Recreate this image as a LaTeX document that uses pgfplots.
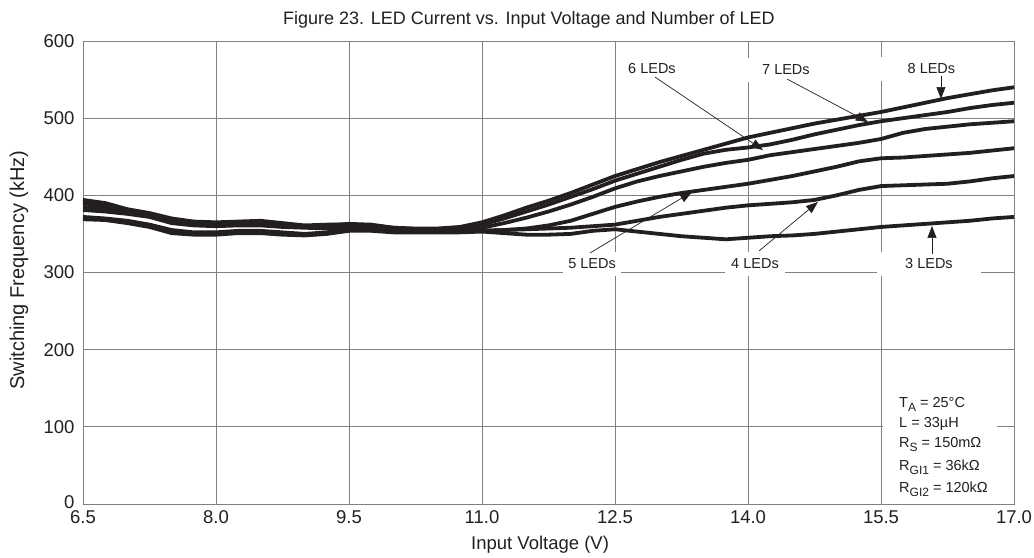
\documentclass[border=0pt]{standalone}
\usepackage{fontspec}
\setmainfont{Liberation Sans}
\usepackage{pgfplots}
\pgfplotsset{compat=1.18}
\usetikzlibrary{arrows.meta}
\definecolor{ink}{HTML}{231F20}
\definecolor{gridc}{HTML}{808080}
\newcommand{\sub}[1]{\raisebox{-4bp}{\fontsize{12bp}{14bp}\selectfont #1}}
\begin{document}
\begin{tikzpicture}[
 lab/.style={font=\fontsize{14.5bp}{17bp}\selectfont, text=ink, fill=white, inner ysep=7bp},
 arr/.style={ink, line width=0.7bp, -{Triangle[length=12bp,width=9bp]}},
 curve/.style={ink, line width=3.8bp, line join=round, solid, mark=none},
]
\begin{axis}[
 scale only axis, width=931bp, height=463bp,
 xmin=6.5, xmax=17, ymin=0, ymax=600,
 xtick={6.5,8,9.5,11,12.5,14,15.5,17},
 xticklabels={6.5,8.0,9.5,11.0,12.5,14.0,15.5,17.0},
 ytick={0,100,200,300,400,500,600},
 yticklabels={\raisebox{4bp}{0}\hspace{8bp},100,200,300,400,500,600},
 grid=major,
 grid style={gridc, line width=0.9bp},
 axis line style={gridc, line width=0.9bp},
 major tick length=0pt,
 tick label style={font=\fontsize{18.5bp}{22bp}\selectfont, text=ink},
 yticklabel style={xshift=-5bp},
 xticklabel style={yshift=-3bp},
 /pgf/number format/assume math mode=true,
 clip=false,
]
% 8 LEDs
\addplot[curve] coordinates {(6.5,394)(6.75,390)(7.0,382)(7.25,377)(7.5,370)(7.75,366)(8.0,365)(8.25,366)(8.5,367)(8.75,364)(9.0,361)(9.25,362)(9.5,362)(9.75,361)(10.0,358)(10.25,357)(10.5,357)(10.75,359)(11.0,365)(11.25,374)(11.5,384)(11.75,393)(12.0,403)(12.25,414)(12.5,425)(12.75,434)(13.0,443)(13.25,451)(13.5,459)(13.75,467)(14.0,475)(14.25,481)(14.5,487)(14.75,493)(15.0,498)(15.25,503)(15.5,508)(15.75,514)(16.0,520)(16.25,526)(16.5,531)(16.75,536)(17.0,540)};
% 7 LEDs
\addplot[curve] coordinates {(6.5,390)(6.75,386)(7.0,380)(7.25,375)(7.5,369)(7.75,364)(8.0,363)(8.25,363)(8.5,364)(8.75,362)(9.0,360)(9.25,360)(9.5,360)(9.75,359)(10.0,356)(10.25,355)(10.5,355)(10.75,357)(11.0,362)(11.25,370)(11.5,379)(11.75,388)(12.0,398)(12.25,408)(12.5,419)(12.75,428)(13.0,437)(13.25,446)(13.5,454)(13.75,459)(14.0,462)(14.25,466)(14.5,472)(14.75,479)(15.0,485)(15.25,491)(15.5,496)(15.75,500)(16.0,504)(16.25,508)(16.5,513)(16.75,517)(17.0,520)};
% 6 LEDs
\addplot[curve] coordinates {(6.5,385)(6.75,383)(7.0,378)(7.25,373)(7.5,366)(7.75,362)(8.0,361)(8.25,362)(8.5,362)(8.75,360)(9.0,359)(9.25,361)(9.5,363)(9.75,362)(10.0,358)(10.25,356)(10.5,356)(10.75,356)(11.0,358)(11.25,364)(11.5,371)(11.75,379)(12.0,388)(12.25,398)(12.5,409)(12.75,418)(13.0,425)(13.25,431)(13.5,437)(13.75,442)(14.0,446)(14.25,452)(14.5,456)(14.75,460)(15.0,464)(15.25,468)(15.5,473)(15.75,481)(16.0,486)(16.25,489)(16.5,492)(16.75,494)(17.0,496)};
% 5 LEDs
\addplot[curve] coordinates {(6.5,381)(6.75,379)(7.0,376)(7.25,372)(7.5,364)(7.75,361)(8.0,360)(8.25,361)(8.5,361)(8.75,359)(9.0,358)(9.25,357)(9.5,357)(9.75,356)(10.0,354)(10.25,353)(10.5,353)(10.75,353)(11.0,354)(11.25,355)(11.5,357)(11.75,361)(12.0,367)(12.25,376)(12.5,385)(12.75,392)(13.0,398)(13.25,403)(13.5,407)(13.75,411)(14.0,415)(14.25,420)(14.5,425)(14.75,431)(15.0,437)(15.25,444)(15.5,448)(15.75,449)(16.0,451)(16.25,453)(16.5,455)(16.75,458)(17.0,461)};
% 4 LEDs
\addplot[curve] coordinates {(6.5,372)(6.75,370)(7.0,367)(7.25,362)(7.5,355)(7.75,352)(8.0,352)(8.25,354)(8.5,354)(8.75,352)(9.0,350)(9.25,352)(9.5,356)(9.75,356)(10.0,355)(10.25,354)(10.5,354)(10.75,354)(11.0,354)(11.25,355)(11.5,356)(11.75,357)(12.0,358)(12.25,360)(12.5,362)(12.75,367)(13.0,372)(13.25,376)(13.5,380)(13.75,384)(14.0,387)(14.25,389)(14.5,391)(14.75,394)(15.0,400)(15.25,407)(15.5,412)(15.75,413)(16.0,414)(16.25,415)(16.5,418)(16.75,422)(17.0,425)};
% 3 LEDs
\addplot[curve] coordinates {(6.5,369)(6.75,368)(7.0,364)(7.25,359)(7.5,351)(7.75,349)(8.0,349)(8.25,351)(8.5,351)(8.75,349)(9.0,348)(9.25,350)(9.5,354)(9.75,354)(10.0,352)(10.25,352)(10.5,352)(10.75,352)(11.0,353)(11.25,351)(11.5,349)(11.75,349)(12.0,350)(12.25,354)(12.5,356)(12.75,353)(13.0,350)(13.25,347)(13.5,345)(13.75,343)(14.0,345)(14.25,347)(14.5,348)(14.75,350)(15.0,353)(15.25,356)(15.5,359)(15.75,361)(16.0,363)(16.25,365)(16.5,367)(16.75,370)(17.0,372)};

% labels
\node[lab, inner xsep=4bp] at (axis cs:12.917,564.4) {6 LEDs};
\node[lab, inner xsep=16bp] at (axis cs:14.428,562.4) {7 LEDs};
\node[lab, inner xsep=28bp] at (axis cs:16.069,563.7) {8 LEDs};
\node[lab, inner xsep=5bp] at (axis cs:12.241,311) {5 LEDs};
\node[lab, inner xsep=6bp] at (axis cs:14.079,311) {4 LEDs};
\node[lab, inner xsep=28bp] at (axis cs:16.041,311) {3 LEDs};
\draw[arr] (axis cs:12.951,553.3) -- (axis cs:14.169,458.7);
\draw[arr] (axis cs:14.440,550.7) -- (axis cs:15.353,495.0);
\draw[arr] (axis cs:16.176,554.6) -- (axis cs:16.176,524.8);
\draw[arr] (axis cs:12.218,325.3) -- (axis cs:13.368,404.3);
\draw[arr] (axis cs:14.124,327.9) -- (axis cs:14.789,391.4);
\draw[arr] (axis cs:16.075,324.0) -- (axis cs:16.075,360.3);

% conditions box
\fill[white] (axis cs:15.522,1.2) rectangle (axis cs:16.808,154);
\begin{scope}[every node/.style={anchor=base west, inner sep=0pt, text=ink, font=\fontsize{14.5bp}{17bp}\selectfont}]
\node at (axis cs:15.703,124.4) {T\sub{A} = 25°C};
\node at (axis cs:15.703,98.5) {L = 33µH};
\node at (axis cs:15.703,72.6) {R\sub{S} = 150mΩ};
\node at (axis cs:15.703,42.8) {R\sub{GI1} = 36kΩ};
\node at (axis cs:15.703,14.3) {R\sub{GI2} = 120kΩ};
\end{scope}

% titles
\node[anchor=base, text=ink, font=\fontsize{18bp}{21bp}\selectfont] at (axis cs:11.53,622) {Figure 23. LED Current vs. Input Voltage and Number of LED};
\node[anchor=base, text=ink, font=\fontsize{18.5bp}{22bp}\selectfont] at (axis cs:11.655,-59.6) {Input Voltage (V)};
\node[anchor=base, rotate=90, text=ink, font=\fontsize{20bp}{24bp}\selectfont] at (axis cs:5.835,303.2) {Switching Frequency (kHz)};

\coordinate (bl) at (rel axis cs:0,0);
\coordinate (tr) at (rel axis cs:1,1);
\end{axis}
\pgfresetboundingbox
\path[use as bounding box] ([shift={(-83bp,-54bp)}]bl) rectangle ([shift={(20bp,41bp)}]tr);
\end{tikzpicture}
\end{document}
